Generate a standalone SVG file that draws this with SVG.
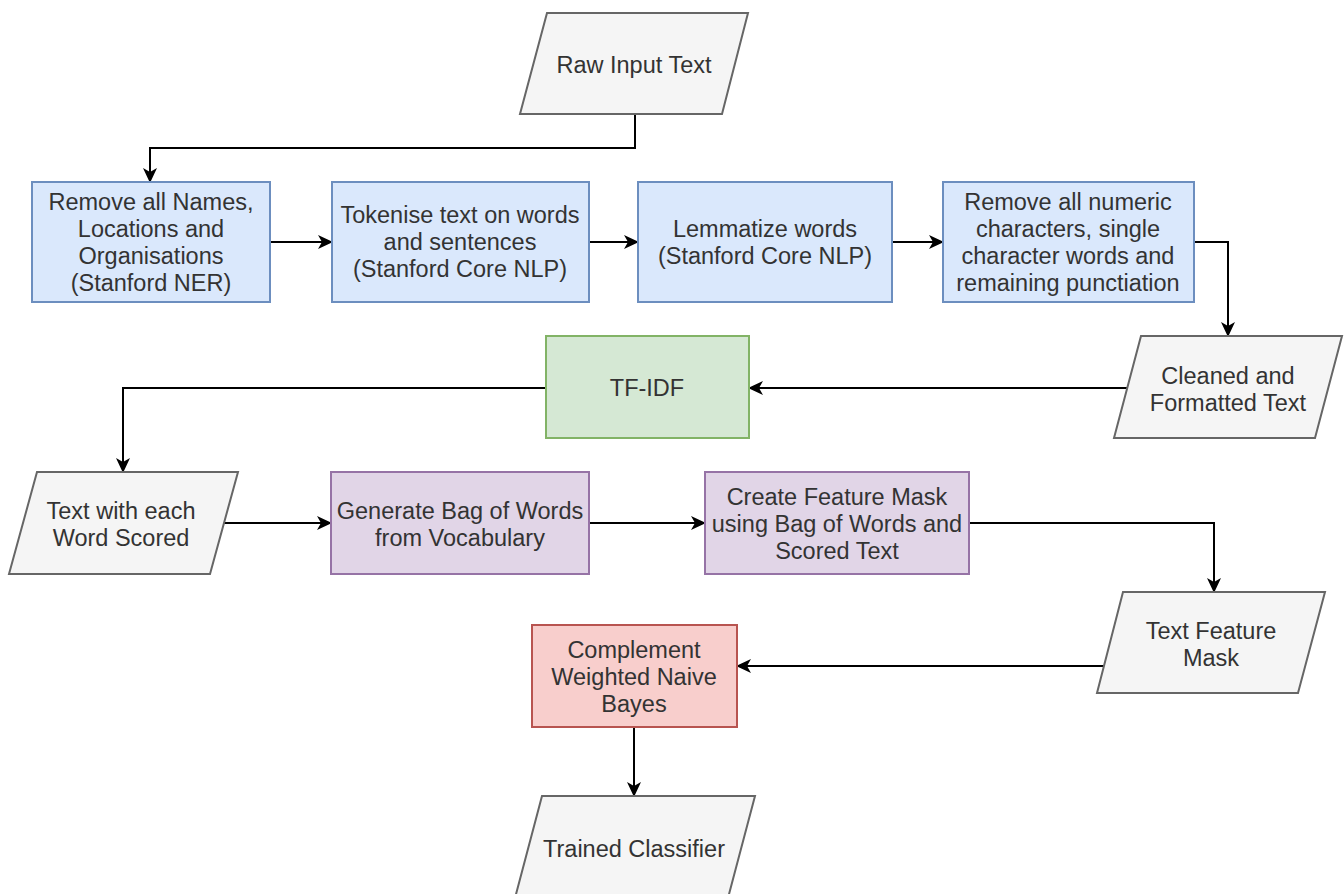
<svg xmlns="http://www.w3.org/2000/svg" width="1344" height="894" viewBox="0 0 1344 894">
<style>
text{font-family:"Liberation Sans",Arial,sans-serif;font-size:23.5px;fill:#333333;text-anchor:middle}
.io{fill:#f5f5f5;stroke:#666666;stroke-width:2}
.blue{fill:#dae8fc;stroke:#6c8ebf;stroke-width:2}
.green{fill:#d5e8d4;stroke:#82b366;stroke-width:2}
.purple{fill:#e1d5e7;stroke:#9673a6;stroke-width:2}
.red{fill:#f8cecc;stroke:#b85450;stroke-width:2}
.edge{fill:none;stroke:#000000;stroke-width:2;marker-end:url(#arr)}
</style>
<defs>
<marker id="arr" markerUnits="userSpaceOnUse" markerWidth="15" markerHeight="14" viewBox="0 0 15 14" refX="14" refY="7" orient="auto">
<path d="M0,0 L15,7 L0,14 L4,7 Z" fill="#000000"/>
</marker>
</defs>
<rect width="1344" height="894" fill="#ffffff"/>
<g id="connectors">
<path class="edge" d="M635,114 V148 H150 V182"/>
<path class="edge" d="M270,242 H332"/>
<path class="edge" d="M589,242 H638"/>
<path class="edge" d="M892,242 H943"/>
<path class="edge" d="M1194,242 H1228 V336"/>
<path class="edge" d="M1127,388 H749"/>
<path class="edge" d="M546,388 H123 V472"/>
<path class="edge" d="M224,523 H331"/>
<path class="edge" d="M589,523 H705"/>
<path class="edge" d="M969,523 H1214 V592"/>
<path class="edge" d="M1104,666 H737"/>
<path class="edge" d="M634,727 V796"/>
</g>
<g id="raw">
<polygon class="io" points="547,13 748,13 722,114 520,114"/>
<text x="634" y="73">Raw Input Text</text>
</g>
<g id="ner">
<rect class="blue" x="32" y="182" width="238" height="120"/>
<text x="151" y="210">Remove all Names,<tspan x="151" dy="27">Locations and</tspan><tspan x="151" dy="27">Organisations</tspan><tspan x="151" dy="27">(Stanford NER)</tspan></text>
</g>
<g id="tokenise">
<rect class="blue" x="332" y="182" width="257" height="120"/>
<text x="460" y="223">Tokenise text on words<tspan x="460" dy="27">and sentences</tspan><tspan x="460" dy="27">(Stanford Core NLP)</tspan></text>
</g>
<g id="lemmatize">
<rect class="blue" x="638" y="182" width="254" height="120"/>
<text x="765" y="237">Lemmatize words<tspan x="765" dy="27">(Stanford Core NLP)</tspan></text>
</g>
<g id="removenum">
<rect class="blue" x="943" y="182" width="251" height="120"/>
<text x="1068" y="210">Remove all numeric<tspan x="1068" dy="27">characters, single</tspan><tspan x="1068" dy="27">character words and</tspan><tspan x="1068" dy="27">remaining punctiation</tspan></text>
</g>
<g id="cleaned">
<polygon class="io" points="1141,336 1342,336 1315,438 1114,438"/>
<text x="1228" y="384">Cleaned and<tspan x="1228" dy="27">Formatted Text</tspan></text>
</g>
<g id="tfidf">
<rect class="green" x="546" y="336" width="203" height="102"/>
<text x="647" y="396">TF-IDF</text>
</g>
<g id="scored">
<polygon class="io" points="37,472 238,472 210,574 9,574"/>
<text x="121" y="519">Text with each<tspan x="121" dy="27">Word Scored</tspan></text>
</g>
<g id="bow">
<rect class="purple" x="331" y="472" width="258" height="102"/>
<text x="460" y="519">Generate Bag of Words<tspan x="460" dy="27">from Vocabulary</tspan></text>
</g>
<g id="mask">
<rect class="purple" x="705" y="472" width="264" height="102"/>
<text x="837" y="505">Create Feature Mask<tspan x="837" dy="27">using Bag of Words and</tspan><tspan x="837" dy="27">Scored Text</tspan></text>
</g>
<g id="tfm">
<polygon class="io" points="1123,592 1325,592 1298,693 1097,693"/>
<text x="1211" y="639">Text Feature<tspan x="1211" dy="27">Mask</tspan></text>
</g>
<g id="cwnb">
<rect class="red" x="532" y="625" width="205" height="102"/>
<text x="634" y="658">Complement<tspan x="634" dy="27">Weighted Naive</tspan><tspan x="634" dy="27">Bayes</tspan></text>
</g>
<g id="trained">
<polygon class="io" points="542,796 755,796 728,898 515,898"/>
<text x="634" y="857">Trained Classifier</text>
</g>
</svg>
